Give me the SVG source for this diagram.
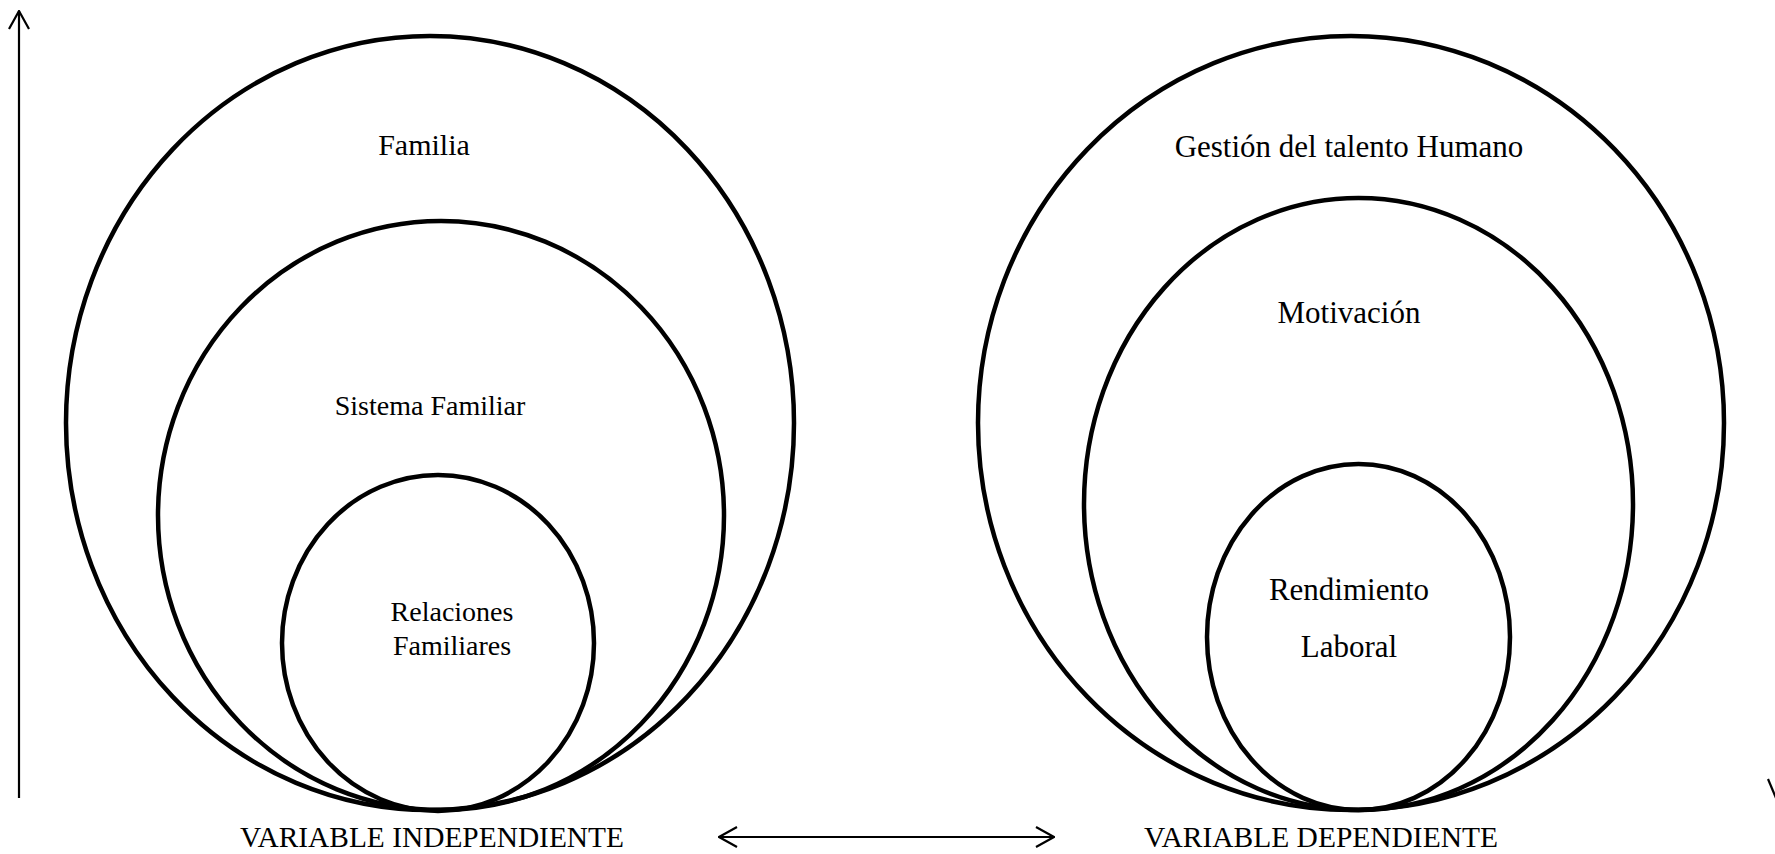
<svg xmlns="http://www.w3.org/2000/svg" width="1775" height="854" viewBox="0 0 1775 854">
  <style>
    .ring { fill: none; stroke: #000; stroke-width: 4.5; }
    .axis { fill: none; stroke: #000; stroke-width: 2.2; }
    .lbl { font-family: "Liberation Serif", "Times New Roman", serif; fill: #000; text-anchor: middle; }
  </style>
  <defs>
    <marker id="openHead" viewBox="0 0 20 22" refX="19" refY="11" markerWidth="20" markerHeight="22" markerUnits="userSpaceOnUse" orient="auto-start-reverse">
      <path d="M1,1 L19,11 L1,21" fill="none" stroke="#000" stroke-width="2.2"/>
    </marker>
  </defs>
  <rect width="1775" height="854" fill="#fff"/>

  <!-- connectors -->
  <g id="connectors">
    <line class="axis" x1="19" y1="798" x2="19" y2="11" marker-end="url(#openHead)"/>
    <line class="axis" x1="719" y1="837" x2="1054" y2="837" marker-start="url(#openHead)" marker-end="url(#openHead)"/>
    <line class="axis" x1="1768" y1="779" x2="1776" y2="798"/>
  </g>

  <!-- independent variable -->
  <g id="familia">
    <ellipse class="ring" cx="430" cy="423" rx="364" ry="387"/>
    <text class="lbl" x="424" y="155" font-size="30">Familia</text>
  </g>
  <g id="sistema-familiar">
    <ellipse class="ring" cx="441" cy="515.5" rx="283" ry="294.5"/>
    <text class="lbl" x="430" y="415" font-size="28">Sistema Familiar</text>
  </g>
  <g id="relaciones-familiares">
    <ellipse class="ring" cx="438" cy="643" rx="156" ry="168"/>
    <text class="lbl" x="452" y="621" font-size="28">Relaciones</text>
    <text class="lbl" x="452" y="655" font-size="28">Familiares</text>
  </g>
  <g id="variable-independiente">
    <text class="lbl" x="432" y="847" font-size="30" textLength="384" lengthAdjust="spacingAndGlyphs">VARIABLE INDEPENDIENTE</text>
  </g>

  <!-- dependent variable -->
  <g id="gestion-talento">
    <ellipse class="ring" cx="1351" cy="423" rx="373" ry="387"/>
    <text class="lbl" x="1349" y="157" font-size="31">Gestión del talento Humano</text>
  </g>
  <g id="motivacion">
    <ellipse class="ring" cx="1358.5" cy="504" rx="274.5" ry="306"/>
    <text class="lbl" x="1349" y="323" font-size="31">Motivación</text>
  </g>
  <g id="rendimiento-laboral">
    <ellipse class="ring" cx="1358.5" cy="637" rx="151.5" ry="173"/>
    <text class="lbl" x="1349" y="600" font-size="31">Rendimiento</text>
    <text class="lbl" x="1349" y="657" font-size="31">Laboral</text>
  </g>
  <g id="variable-dependiente">
    <text class="lbl" x="1321" y="847" font-size="30" textLength="354" lengthAdjust="spacingAndGlyphs">VARIABLE DEPENDIENTE</text>
  </g>
</svg>
